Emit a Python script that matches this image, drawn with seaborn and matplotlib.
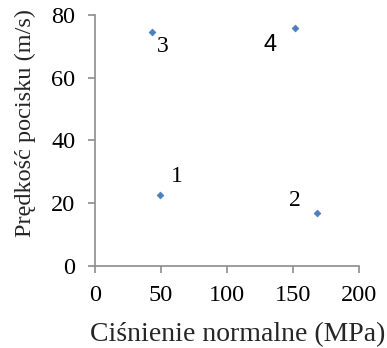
import matplotlib
matplotlib.use("Agg")
import matplotlib.pyplot as plt
import seaborn as sns
import pandas as pd

# Measurement points: normal pressure vs projectile velocity
labels = ["1", "2", "3", "4"]
pressure = [49.5, 168.2, 43.0, 151.3]
velocity = [22.7, 16.8, 74.7, 75.8]
x_ticks = [0, 50, 100, 150, 200]
y_ticks = [0, 20, 40, 60, 80]

df = pd.DataFrame({"p": pressure, "v": velocity, "lab": labels})

sns.set_theme(style="white")
plt.rcParams["font.family"] = ["Liberation Serif", "DejaVu Serif"]

fig = plt.figure(figsize=(3.87, 3.48), dpi=100)
ax = fig.add_axes([0.245, 0.236, 0.683, 0.721])

sns.scatterplot(data=df, x="p", y="v", ax=ax, marker="D", s=12,
                color="#4A7EC0", edgecolor="#4A7EC0", linewidth=0.5, zorder=3)

# Point numbers placed beside each marker (offsets in points)
offsets = {"1": (12, 13), "2": (-16, 9), "3": (8, -11), "4": (-18, -12)}
for _, r in df.iterrows():
    dx, dy = offsets[r["lab"]]
    fam = ["Liberation Sans"] if r["lab"] == "4" else ["Liberation Serif"]
    ax.annotate(r["lab"], (r["p"], r["v"]), xytext=(dx, dy),
                textcoords="offset points", ha="center", va="center",
                fontsize=17, family=fam, color="black")

ax.set_xlim(0, 200)
ax.set_ylim(0, 80)
ax.set_xticks(x_ticks)
ax.set_yticks(y_ticks)
ax.tick_params(axis="both", labelsize=17.5, length=5, width=1.2,
               direction="out", pad=9, labelcolor="black", color="#8C8C8C")
ax.xaxis.set_ticks_position("bottom")
ax.yaxis.set_ticks_position("left")

for side in ["top", "right"]:
    ax.spines[side].set_visible(False)
for side in ["left", "bottom"]:
    ax.spines[side].set_color("#8C8C8C")
    ax.spines[side].set_linewidth(1.2)

ax.set_xlabel("Ciśnienie normalne (MPa)", fontsize=20, labelpad=11)
ax.set_ylabel("Prędkość pocisku (m/s)", fontsize=17.5, labelpad=11)
ax.xaxis.label.set_x(0.54)
ax.yaxis.label.set_y(0.57)
ax.grid(False)

fig.savefig("out.png", dpi=100)
